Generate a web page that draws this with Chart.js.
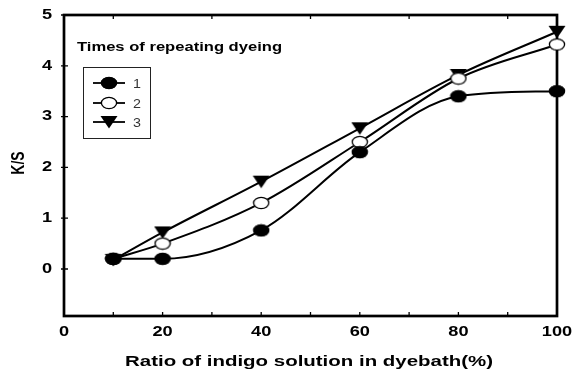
<!DOCTYPE html>
<html>
<head>
<meta charset="utf-8">
<script src="https://cdn.jsdelivr.net/npm/chart.js@4.4.0/dist/chart.umd.min.js"></script>
<style>
html,body{margin:0;padding:0;background:#fff;}
#wrap{width:574px;height:372px;}
</style>
</head>
<body>
<div id="wrap"><canvas id="c" width="574" height="372"></canvas></div>
<script>
const categories = [10, 20, 40, 60, 80, 100];
const series1 = [0.2, 0.2, 0.76, 2.3, 3.4, 3.5];
const series2 = [0.2, 0.5, 1.3, 2.5, 3.75, 4.42];
const series3 = [0.18, 0.72, 1.72, 2.77, 3.82, 4.67];
const seriesNames = ['1', '2', '3'];
const xTicks = [0, 20, 40, 60, 80, 100];
const yTicks = [0, 1, 2, 3, 4, 5];
const xMinorTicks = [10, 20, 30, 40, 50, 60, 70, 80, 90];
const xTopTicks = [10, 30, 50, 70, 90];
const legendTitle = 'Times of repeating dyeing';
const xTitle = 'Ratio of indigo solution in dyebath(%)';
const yTitle = 'K/S';

const FONT = '"Liberation Sans", Arial, sans-serif';
const SX = 1.3;

function makeMarker(kind) {
  const c = document.createElement('canvas');
  c.width = 18; c.height = 14;
  const g = c.getContext('2d');
  g.beginPath();
  if (kind === 'tri') {
    g.moveTo(0.5, 1); g.lineTo(17.5, 1); g.lineTo(9, 13.5); g.closePath();
    g.fillStyle = '#000'; g.fill();
  } else {
    g.ellipse(9, 7, 8, 6, 0, 0, Math.PI * 2);
    g.fillStyle = kind === 'open' ? '#fff' : '#000';
    g.fill();
    g.lineWidth = 1.3; g.strokeStyle = '#000';
    g.beginPath(); g.ellipse(9, 7, 7.6, 5.6, 0, 0, Math.PI * 2); g.stroke();
  }
  return c;
}
const markers = [makeMarker('fill'), makeMarker('open'), makeMarker('tri')];

function toPts(vals) { return categories.map((x, i) => ({ x: x, y: vals[i] })); }

function sText(ctx, text, x, y, font, align, sx, fitWidth) {
  ctx.save();
  ctx.font = font;
  let s = sx;
  if (fitWidth) s = fitWidth / ctx.measureText(text).width;
  ctx.translate(x, y);
  ctx.scale(s, 1);
  ctx.textAlign = align;
  ctx.fillText(text, 0, 0);
  ctx.restore();
}

const framePlugin = {
  id: 'frame',
  beforeDatasetsDraw(chart) {
    const ctx = chart.ctx, a = chart.chartArea;
    const xs = chart.scales.x, ys = chart.scales.y;
    ctx.save();
    ctx.strokeStyle = '#000';
    ctx.lineWidth = 1.3;
    ctx.beginPath();
    xMinorTicks.forEach(v => {
      const px = xs.getPixelForValue(v);
      ctx.moveTo(px, a.bottom); ctx.lineTo(px, a.bottom - 4);
    });
    xTopTicks.forEach(v => {
      const px = xs.getPixelForValue(v);
      ctx.moveTo(px, a.top); ctx.lineTo(px, a.top + 4);
    });
    yTicks.forEach(v => {
      const py = ys.getPixelForValue(v);
      ctx.moveTo(a.left - 3, py); ctx.lineTo(a.left + 4, py);
    });
    ctx.stroke();
    ctx.lineWidth = 2.7;
    ctx.strokeRect(a.left, a.top, a.right - a.left, a.bottom - a.top);
    ctx.restore();
  },
  afterDraw(chart) {
    const ctx = chart.ctx, a = chart.chartArea;
    const xs = chart.scales.x, ys = chart.scales.y;
    ctx.save();
    ctx.fillStyle = '#000';
    ctx.textBaseline = 'middle';
    xTicks.forEach(v => {
      sText(ctx, String(v), xs.getPixelForValue(v), 332.5, 'bold 14px ' + FONT, 'center', SX);
    });
    yTicks.forEach(v => {
      sText(ctx, String(v), 52, ys.getPixelForValue(v), 'bold 14px ' + FONT, 'right', SX);
    });
    ctx.textBaseline = 'alphabetic';
    sText(ctx, xTitle, 125, 366, 'bold 15.5px ' + FONT, 'left', SX, 368);
    // y title rotated
    ctx.save();
    ctx.translate(18.5, 163);
    ctx.rotate(-Math.PI / 2);
    ctx.scale(1, SX);
    ctx.font = 'bold 14px ' + FONT;
    ctx.textAlign = 'center';
    ctx.textBaseline = 'middle';
    ctx.fillText(yTitle, 0, 0);
    ctx.restore();
    // legend
    sText(ctx, legendTitle, 77, 51, 'bold 12.5px ' + FONT, 'left', SX, 205);
    ctx.strokeStyle = '#222';
    ctx.lineWidth = 1;
    ctx.strokeRect(83.5, 67.5, 67, 71);
    const rows = [83, 103, 122];
    rows.forEach((ry, i) => {
      ctx.strokeStyle = '#000';
      ctx.lineWidth = 1.8;
      ctx.beginPath(); ctx.moveTo(93, ry); ctx.lineTo(125, ry); ctx.stroke();
      const m = markers[i];
      ctx.drawImage(m, 109 - m.width / 2, ry - m.height / 2);
      ctx.fillStyle = '#333';
      ctx.textBaseline = 'middle';
      sText(ctx, seriesNames[i], 133, ry + 1, '13px ' + FONT, 'left', 1.1);
    });
    ctx.restore();
  }
};

const ds = [series1, series2, series3].map((vals, i) => ({
  label: seriesNames[i],
  data: toPts(vals),
  borderColor: '#000',
  borderWidth: 2,
  backgroundColor: '#000',
  pointStyle: markers[i],
  pointRadius: 8,
  cubicInterpolationMode: 'monotone',
  fill: false,
  clip: false
}));

new Chart(document.getElementById('c'), {
  type: 'line',
  data: { datasets: ds },
  options: {
    responsive: false,
    animation: false,
    layout: { padding: { left: 64, right: 17, top: 15, bottom: 56 } },
    plugins: { legend: { display: false }, tooltip: { enabled: false } },
    scales: {
      x: { type: 'linear', min: 0, max: 100, display: false },
      y: { type: 'linear', min: -0.925, max: 5, display: false }
    }
  },
  plugins: [framePlugin]
});
</script>
</body>
</html>
